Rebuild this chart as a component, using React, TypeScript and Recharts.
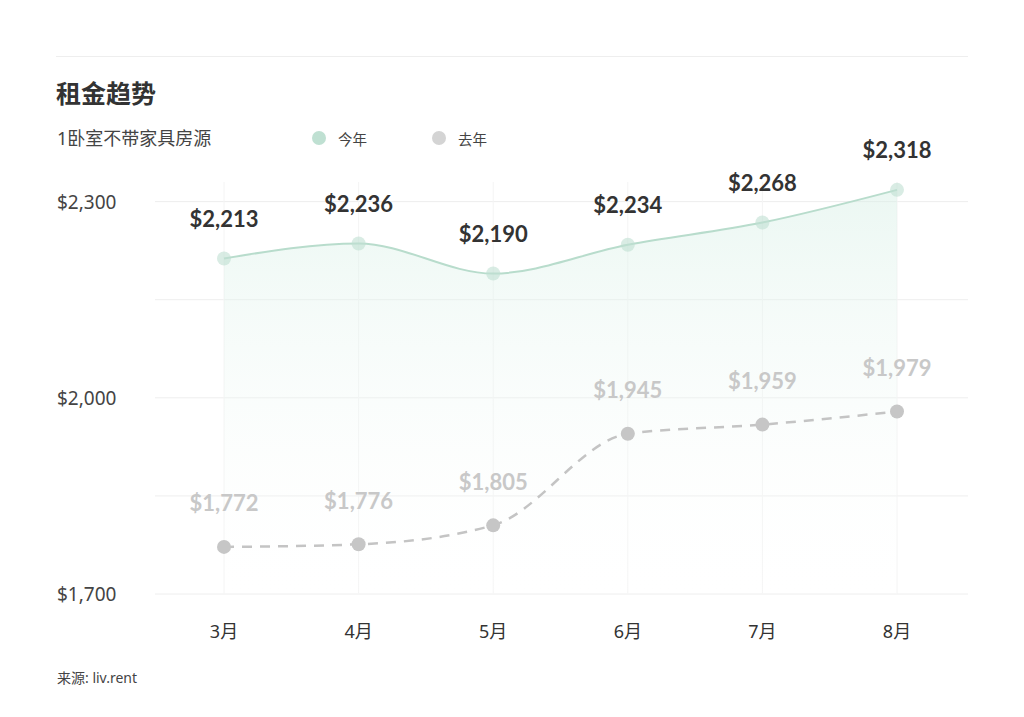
import React from 'react';
import { ComposedChart, Area, Line, XAxis, YAxis, CartesianGrid, LabelList } from 'recharts';

const months = ['3月', '4月', '5月', '6月', '7月', '8月'];
const thisYear = [2213, 2236, 2190, 2234, 2268, 2318];
const lastYear = [1772, 1776, 1805, 1945, 1959, 1979];
const yTicks = [1700, 1850, 2000, 2150, 2300];
const yLabelTicks = [1700, 2000, 2300];

const seriesInfo = [
  { key: 'thisYear', name: '今年', color: '#bfe0d2' },
  { key: 'lastYear', name: '去年', color: '#d4d4d4' },
];

const data = months.map((m, i) => ({ month: m, thisYear: thisYear[i], lastYear: lastYear[i] }));

const fmt = (v: number) => '$' + v.toLocaleString('en-US');

const CJK = '"Noto Sans", "Noto Sans CJK SC", sans-serif';
const NUM = 'Lato, "Noto Sans", sans-serif';

const YTick = (props: any) => {
  const { y, payload } = props;
  if (!yLabelTicks.includes(payload.value)) return <g />;
  return (
    <text x={57} y={y} textAnchor="start" dominantBaseline="central" fill="#444" fontSize={19} fontFamily={CJK}>
      {fmt(payload.value)}
    </text>
  );
};

const XTick = (props: any) => {
  const { x, payload } = props;
  return (
    <text x={x} y={631} textAnchor="middle" dominantBaseline="central" fill="#333" fontSize={18} fontFamily={CJK}>
      {payload.value}
    </text>
  );
};

const makeLabel = (color: string, dy: number) => (props: any) => {
  const { x, y, value } = props;
  return (
    <text x={x} y={y - dy} textAnchor="middle" dominantBaseline="central" fill={color} fontSize={22} fontWeight={700} fontFamily={NUM}>
      {fmt(value)}
    </text>
  );
};

export default function App() {
  return (
    <div style={{ position: 'absolute', left: 0, top: 0, width: 1024, height: 717, background: '#fff', overflow: 'hidden' }}>
      <ComposedChart width={1024} height={717} data={data} margin={{ top: 182, right: 56, bottom: 83, left: 0 }}>
        <defs>
          <linearGradient id="greenFill" x1="0" y1="0" x2="0" y2="1">
            <stop offset="0%" stopColor="#d6efe5" stopOpacity={0.8} />
            <stop offset="100%" stopColor="#ffffff" stopOpacity={0.1} />
          </linearGradient>
        </defs>
        <line x1={56} x2={968} y1={56.5} y2={56.5} stroke="#eeeeee" strokeWidth={1} />
        <CartesianGrid stroke="#eeeeee" strokeWidth={1} vertical={false} syncWithTicks />
        <CartesianGrid stroke="#f4f4f4" strokeWidth={1} horizontal={false} syncWithTicks />
        <XAxis dataKey="month" axisLine={false} tickLine={false} height={40} padding={{ left: 69, right: 71 }} tick={XTick} interval={0} />
        <YAxis type="number" domain={[1700, 2330]} ticks={yTicks} axisLine={false} tickLine={false} width={155} tick={YTick} interval={0} />
        <Area
          type="monotone"
          dataKey="thisYear"
          stroke="#b8dccc"
          strokeWidth={2}
          fill="url(#greenFill)"
          dot={{ r: 7, fill: '#bfe0d2', stroke: 'none' }}
          activeDot={false}
          isAnimationActive={false}
        >
          <LabelList dataKey="thisYear" content={makeLabel('#333333', 40)} />
        </Area>
        <Line
          type="monotone"
          dataKey="lastYear"
          stroke="#c4c4c4"
          strokeWidth={2.5}
          strokeDasharray="10 8"
          dot={{ r: 7, fill: '#c6c6c6', stroke: 'none' }}
          activeDot={false}
          isAnimationActive={false}
        >
          <LabelList dataKey="lastYear" content={makeLabel('#c8c8c8', 44)} />
        </Line>
      </ComposedChart>
      <div style={{ position: 'absolute', left: 56, top: 77, fontFamily: CJK, fontSize: 25, fontWeight: 700, color: '#333', lineHeight: '32px' }}>
        租金趋势
      </div>
      <div style={{ position: 'absolute', left: 57, top: 126, fontFamily: CJK, fontSize: 18, color: '#444', lineHeight: '24px' }}>
        1卧室不带家具房源
      </div>
      {seriesInfo.map((s, i) => (
        <div key={s.key} style={{ position: 'absolute', left: 312 + i * 120, top: 127, display: 'flex', alignItems: 'center', height: 22 }}>
          <span style={{ width: 14, height: 14, borderRadius: 7, background: s.color, display: 'inline-block' }} />
          <span style={{ marginLeft: 12, fontFamily: CJK, fontSize: 14.5, color: '#444' }}>{s.name}</span>
        </div>
      ))}
      <div style={{ position: 'absolute', left: 57, top: 668, fontFamily: CJK, fontSize: 14, color: '#444', lineHeight: '20px' }}>
        来源: liv.rent
      </div>
    </div>
  );
}
